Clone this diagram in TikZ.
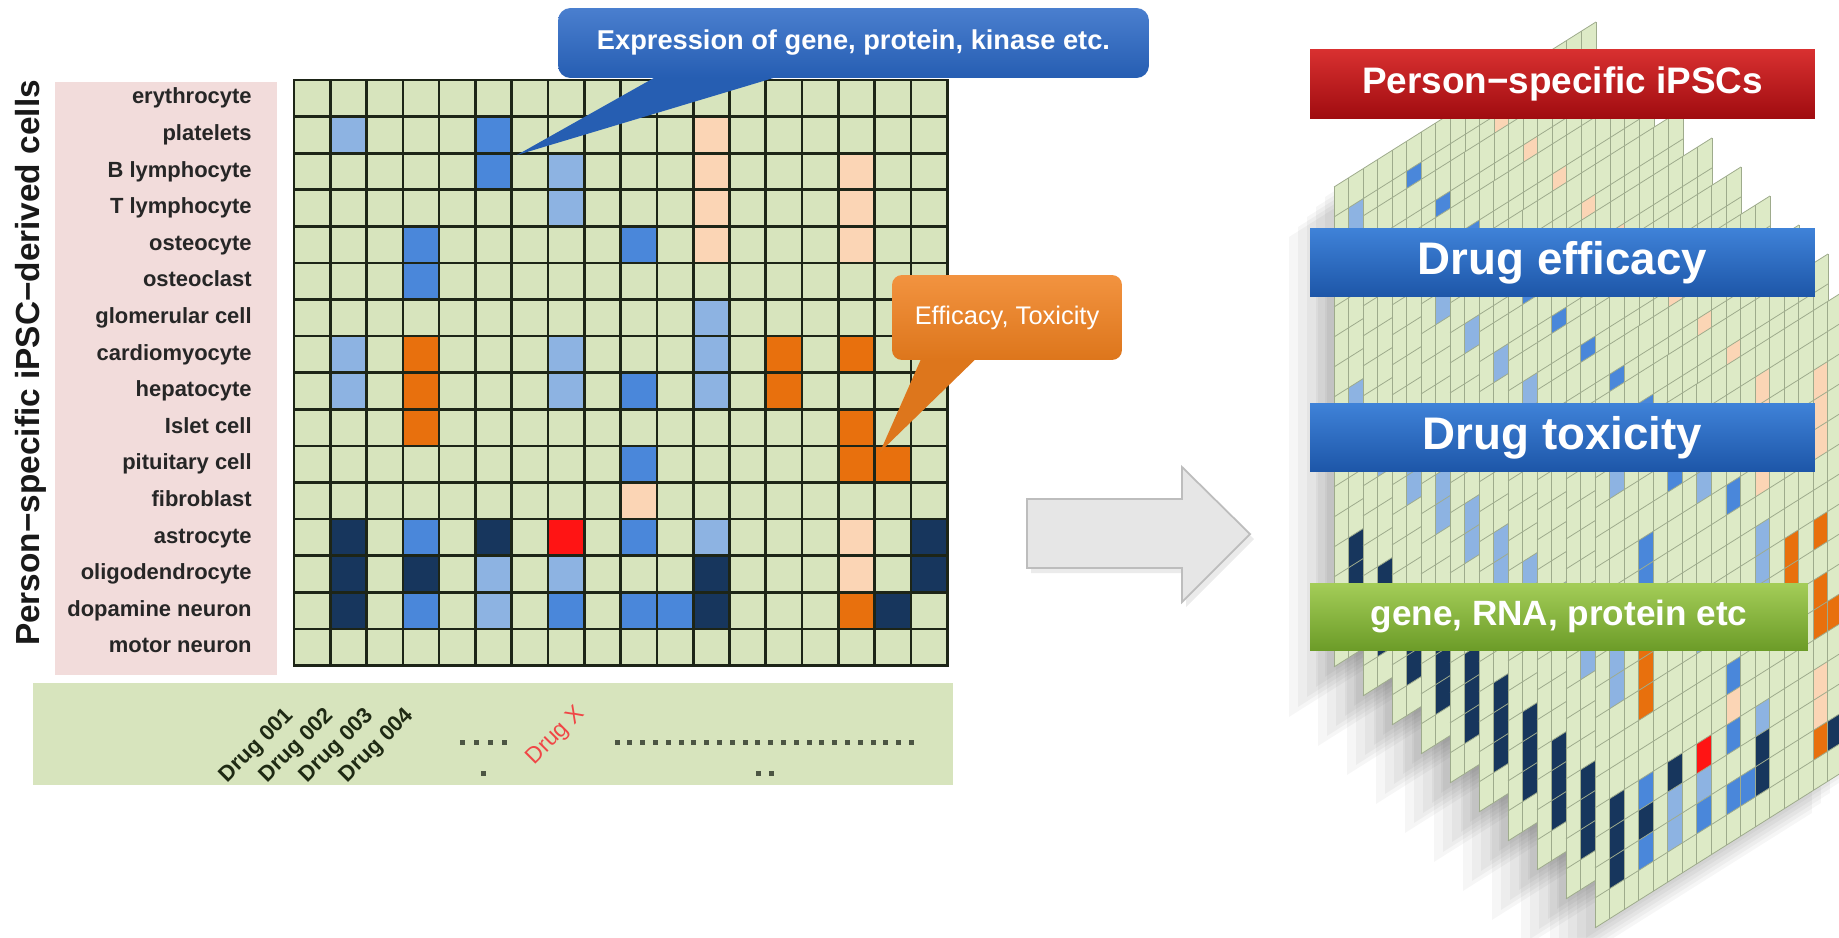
\documentclass[tikz,border=0pt]{standalone}
\usepackage{fontspec}
\setmainfont{Liberation Sans}
\definecolor{cellbg}{HTML}{D7E4BD}
\definecolor{sheetbg}{HTML}{DDEAC6}
\definecolor{gridc}{HTML}{1D2517}
\definecolor{sheetc}{HTML}{9EAB8C}
\definecolor{lblue}{HTML}{8DB3E2}
\definecolor{mblue}{HTML}{4A87DA}
\definecolor{cellnavy}{HTML}{17365D}
\definecolor{peach}{HTML}{FBD5B5}
\definecolor{dorange}{HTML}{E8700D}
\definecolor{hitred}{HTML}{FF1414}
\definecolor{panelpink}{HTML}{F2DCDB}
\definecolor{drugred}{HTML}{F04646}
\definecolor{darkolive}{HTML}{1F2A14}
\definecolor{callblue}{HTML}{2A68C6}
\definecolor{callorange}{HTML}{F0801E}
\definecolor{arrowgrey}{HTML}{E6E6E6}
\definecolor{arrowedge}{HTML}{BDBDBD}
\definecolor{redtop}{HTML}{D83030}
\definecolor{redbot}{HTML}{A00C10}
\definecolor{bluetop}{HTML}{3F82D8}
\definecolor{bluebot}{HTML}{1D56A8}
\definecolor{greentop}{HTML}{A4CD58}
\definecolor{greenbot}{HTML}{6C9C28}
\newcommand{\paintcells}[2]{\foreach \ci/\ri in {#2} {\fill[#1] (\ci-1,\ri-1) rectangle (\ci,\ri);}}
\newcommand{\drugmatrix}{%
  \paintcells{lblue}{2/2,8/3,8/4,12/7,2/8,8/8,12/8,2/9,8/9,12/9,12/13,6/14,8/14,6/15}%
  \paintcells{mblue}{6/2,6/3,4/5,10/5,4/6,10/9,10/11,4/13,10/13,4/15,8/15,10/15,11/15}%
  \paintcells{peach}{12/2,12/3,16/3,12/4,16/4,12/5,16/5,10/12,16/13,16/14}%
  \paintcells{dorange}{4/8,14/8,16/8,4/9,14/9,4/10,16/10,16/11,17/11,16/15}%
  \paintcells{cellnavy}{2/13,6/13,18/13,2/14,4/14,12/14,18/14,2/15,12/15,17/15}%
  \paintcells{hitred}{8/13}}
\tikzset{
  gridline/.style={draw=gridc,line width=1.5pt,line cap=rect},
  sheetline/.style={draw=sheetc,line width=0.45pt},
  sheet/.style={yslant=0.63,x=0.2911cm,y=-0.6cm},
  celltype/.style={anchor=east,inner sep=0pt,text=black!85,text height=9pt,text depth=2.6pt,
    font=\bfseries\fontsize{12.5}{14}\selectfont},
  title/.style={rotate=90,inner sep=0pt,text=black!90,font=\bfseries\fontsize{19}{22}\selectfont},
  druglab/.style={rotate=45,inner sep=0pt,text=darkolive,font=\bfseries\fontsize{12.5}{15}\selectfont},
  bluecall/.style={rounded corners=0.25cm,minimum width=11.82cm,minimum height=1.4cm,inner sep=0pt,
    top color=callblue!85!white,bottom color=callblue!90!black,text=white,
    font=\bfseries\fontsize{15.5}{18}\selectfont},
  orangecall/.style={rounded corners=0.2cm,minimum width=4.6cm,minimum height=1.7cm,inner sep=0pt,
    top color=callorange!85!white,bottom color=callorange!92!black,text=white,
    font=\fontsize{14.5}{17}\selectfont},
  stackbox/.style={minimum width=10.1cm,minimum height=1.37cm,inner sep=0pt,text=white,
    top color=bluetop,bottom color=bluebot,font=\bfseries\fontsize{26}{30}\selectfont},
}
\begin{document}
\begin{tikzpicture}[x=0.02cm,y=-0.02cm]
  \useasboundingbox (0,0) rectangle (1839,937);
  \fill[white] (0,0) rectangle (1839,937);

  % cell types and matrix
  \fill[panelpink] (55,82) rectangle (277,675);
  \node[title] (ttl) at (31,363) {Person−specific iPSC−derived cells};
  \foreach \name [count=\i] in {erythrocyte,platelets,B lymphocyte,T lymphocyte,osteocyte,osteoclast,glomerular cell,cardiomyocyte,hepatocyte,Islet cell,pituitary cell,fibroblast,astrocyte,oligodendrocyte,dopamine neuron,motor neuron}
    \node[celltype] (ct\i) at (252,{80+36.6*(\i-0.5)}) {\name};
  \begin{scope}[shift={(294,80)},x=0.726cm,y=-0.732cm]
    \fill[cellbg] (0,0) rectangle (18,16);
    \drugmatrix
    \foreach \ci in {0,...,18} \draw[gridline] (\ci,0) -- (\ci,16);
    \foreach \ri in {0,...,16} \draw[gridline] (0,\ri) -- (18,\ri);
  \end{scope}

  % drugs
  \fill[cellbg] (33,683) rectangle (953,785);
  \node[druglab] (d1) at (257,746) {Drug 001};
  \node[druglab] (d2) at (297,746) {Drug 002};
  \node[druglab] (d3) at (337,746) {Drug 003};
  \node[druglab] (d4) at (377,746) {Drug 004};
  \node[druglab,text=drugred,font=\fontsize{13}{15}\selectfont] (dx) at (556,736) {Drug X};
  \foreach \x in {462,476,490,504} \fill[darkolive!80] (\x-2.5,739.5) rectangle +(5,5);
  \fill[darkolive!80] (480.5,770.5) rectangle +(5,5);
  \foreach \i in {0,...,23} \fill[darkolive!80] ({617+12.8*\i-2.5},739.5) rectangle +(5,5);
  \fill[darkolive!80] (755.5,770.5) rectangle +(5,5);
  \fill[darkolive!80] (768.5,770.5) rectangle +(5,5);

  % callouts
  \fill[callblue!90!black] (668,70) -- (517,155) -- (800,70) -- cycle;
  \node[bluecall] (expr) at (853.5,43) {Expression of gene, protein, kinase etc.};
  \fill[callorange!92!black] (925,350) -- (880,452) -- (985,350) -- cycle;
  \node[orangecall] (effi) at (1007,317.5) {Efficacy, Toxicity};

  % arrow
  \fill[black,opacity=0.08] (1031,504) -- (1186,504) -- (1186,472) -- (1254,539) -- (1186,607) -- (1186,573) -- (1031,573) -- cycle;
  \filldraw[fill=arrowgrey,draw=arrowedge,line width=1pt] (1027,499) -- (1182,499) -- (1182,467) -- (1250,534) -- (1182,602) -- (1182,568) -- (1027,568) -- cycle;

  % stack of person-specific matrices
  \foreach \k in {0,...,9} \foreach \s in {1,...,5} {
    \begin{scope}[shift={(1334+29*\k-9*\s,187+29*\k+10*\s)},sheet]
      \fill[black,opacity=0.035] (0,0) rectangle (18,16);
    \end{scope}
  }
  \foreach \k in {0,...,9} {
    \begin{scope}[shift={(1334+29*\k,187+29*\k)},sheet]
      \fill[sheetbg] (0,0) rectangle (18,16);
      \drugmatrix
      \foreach \ci in {0,...,18} \draw[sheetline] (\ci,0) -- (\ci,16);
      \foreach \ri in {0,...,16} \draw[sheetline] (0,\ri) -- (18,\ri);
    \end{scope}
  }
  \node[stackbox,top color=redtop,bottom color=redbot,font=\bfseries\fontsize{21}{24}\selectfont] (ips) at (1562.5,84) {Person−specific iPSCs};
  \node[stackbox] (eff) at (1562.5,262.5) {Drug efficacy};
  \node[stackbox] (tox) at (1562.5,437.5) {Drug toxicity};
  \node[stackbox,minimum width=9.96cm,minimum height=1.34cm,top color=greentop,bottom color=greenbot,font=\bfseries\fontsize{20}{24}\selectfont] (omics) at (1559,616.5) {gene, RNA, protein etc};
\end{tikzpicture}
\end{document}
